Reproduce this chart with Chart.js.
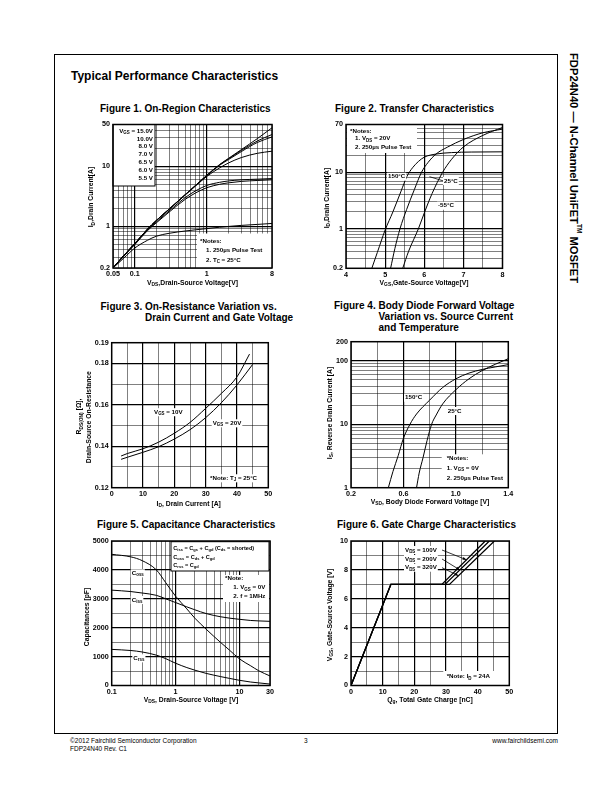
<!DOCTYPE html>
<html>
<head>
<meta charset="utf-8">
<title>FDP24N40 Typical Performance Characteristics</title>
<script src="https://cdn.jsdelivr.net/npm/chart.js@4.4.1/dist/chart.umd.min.js"></script>
<style>
  body { margin: 0; background: #fff; font-family: "Liberation Sans", Arial, sans-serif; color: #000; }
  #page { position: relative; width: 612px; height: 792px; overflow: hidden; }
  .frame { position: absolute; left: 54px; top: 54px; width: 504px; height: 680px; border: 1px solid #000; box-sizing: border-box; }
  .t { position: absolute; white-space: nowrap; font-weight: bold; }
  .fig { font-size: 10px; line-height: 10px; }
  .head { font-size: 12px; line-height: 12px; left: 71px; top: 70px; }
  .foot { position: absolute; white-space: nowrap; font-size: 6.5px; line-height: 8px; }
  .side { position: absolute; writing-mode: vertical-rl; font-weight: bold; font-size: 11.2px; line-height: 13px; left: 567px; top: 53px; white-space: nowrap; }
  .side sup { font-size: 6.5px; }
  canvas { position: absolute; }
</style>
</head>
<body>
<div id="page">
  <div class="frame"></div>
  <div class="t head">Typical Performance Characteristics</div>

  <div class="t fig" style="left:100px;top:104px">Figure 1. On-Region Characteristics</div>
  <div class="t fig" style="left:335px;top:104px">Figure 2. Transfer Characteristics</div>
  <div class="t fig" style="left:100.5px;top:302px">Figure 3. On-Resistance Variation vs.</div>
  <div class="t fig" style="left:145px;top:313px">Drain Current and Gate Voltage</div>
  <div class="t fig" style="left:334px;top:301px">Figure 4. Body Diode Forward Voltage</div>
  <div class="t fig" style="left:378.5px;top:312px">Variation vs. Source Current</div>
  <div class="t fig" style="left:378.5px;top:323px">and Temperature</div>
  <div class="t fig" style="left:97px;top:520px">Figure 5. Capacitance Characteristics</div>
  <div class="t fig" style="left:337px;top:520px">Figure 6. Gate Charge Characteristics</div>

  <div class="side">FDP24N40 — N-Channel UniFET<sup>TM</sup> MOSFET</div>

  <div class="foot" style="left:70px;top:737px">©2012 Fairchild Semiconductor Corporation</div>
  <div class="foot" style="left:70px;top:745px">FDP24N40 Rev. C1</div>
  <div class="foot" style="left:304px;top:737px">3</div>
  <div class="foot" style="right:54px;top:737px">www.fairchildsemi.com</div>
</div>

<script>
// ---- Figure 1: On-Region Characteristics ----
const f1Vds = [0.05, 0.07, 0.1, 0.15, 0.2, 0.3, 0.5, 0.7, 1, 1.5, 2, 3, 5, 8];
const f1Id150 = [0.2, 0.32, 0.51, 0.89, 1.25, 1.93, 3.36, 4.82, 7.1, 10.7, 13.6, 19.0, 29.0, 44];
const f1Id100 = [0.2, 0.32, 0.51, 0.89, 1.25, 1.93, 3.36, 4.82, 7.1, 10.6, 13.4, 18.4, 26.5, 34];
const f1Id80 = [0.2, 0.32, 0.51, 0.89, 1.25, 1.93, 3.35, 4.8, 7.0, 10.4, 13.0, 17.6, 25.0, 31];
const f1Id70 = [0.2, 0.32, 0.51, 0.88, 1.24, 1.9, 3.3, 4.7, 6.8, 9.4, 11.4, 14.0, 16.5, 17.9];
const f1Id65 = [0.2, 0.32, 0.5, 0.86, 1.18, 1.8, 3.0, 3.9, 4.8, 5.4, 5.7, 5.95, 6.1, 6.25];
const f1Id60 = [0.2, 0.31, 0.49, 0.84, 1.14, 1.72, 2.8, 3.6, 4.4, 5.0, 5.3, 5.6, 5.8, 5.95];
const f1Id55 = [0.2, 0.29, 0.43, 0.58, 0.68, 0.76, 0.83, 0.87, 0.91, 0.96, 0.99, 1.03, 1.07, 1.11];
const f1Legend = ['V_{GS} = 15.0V', '10.0V', '8.0 V', '7.0 V', '6.5 V', '6.0 V', '5.5 V'];
const f1XTicks = [0.05, 0.06, 0.07, 0.08, 0.09, 0.1, 0.2, 0.3, 0.4, 0.5, 0.6, 0.7, 0.8, 0.9, 1, 2, 3, 4, 5, 6, 7, 8];
const f1XLabels = ['0.05', '0.1', '1', '8'];
const f1YTicks = [0.2, 0.3, 0.4, 0.5, 0.6, 0.7, 0.8, 0.9, 1, 2, 3, 4, 5, 6, 7, 8, 9, 10, 20, 30, 40, 50];
const f1YLabels = ['0.2', '1', '10', '50'];

// ---- Figure 2: Transfer Characteristics ----
const f2Vgs150 = [4.66, 4.8, 5.0, 5.2, 5.4, 5.56, 5.7, 5.85, 6.0, 6.3, 6.7, 7.2, 8];
const f2Id150 = [0.2, 0.38, 0.95, 2.0, 4.5, 8.5, 12, 15.5, 18.5, 21, 22.3, 22.8, 23];
const f2Vgs25 = [5.14, 5.25, 5.38, 5.55, 5.75, 5.93, 6.1, 6.3, 6.6, 7.0, 7.5, 8];
const f2Id25 = [0.2, 0.45, 1.0, 2.2, 5.0, 10, 15, 21, 28, 38, 50, 58];
const f2VgsM55 = [5.45, 5.6, 5.85, 6.0, 6.2, 6.47, 6.7, 7.0, 7.5, 8];
const f2IdM55 = [0.2, 0.4, 1.0, 1.9, 4.2, 10, 17, 28, 45, 62];
const f2XTicks = [4, 4.5, 5, 5.5, 6, 6.5, 7, 7.5, 8];
const f2XLabels = ['4', '5', '6', '7', '8'];
const f2YTicks = [0.2, 0.3, 0.4, 0.5, 0.6, 0.7, 0.8, 0.9, 1, 2, 3, 4, 5, 6, 7, 8, 9, 10, 20, 30, 40, 50, 60, 70];
const f2YLabels = ['0.2', '1', '10', '70'];

// ---- Figure 3: On-Resistance vs Drain Current ----
const f3Id10 = [3, 5, 10, 15, 20, 25, 30, 35, 40, 44];
const f3R10 = [0.1353, 0.1365, 0.1388, 0.1420, 0.1463, 0.1515, 0.1583, 0.1655, 0.1735, 0.1845];
const f3Id20 = [3, 5, 10, 15, 20, 25, 30, 35, 40, 45];
const f3R20 = [0.1337, 0.1347, 0.1371, 0.1398, 0.1435, 0.148, 0.1538, 0.161, 0.1696, 0.1795];
const f3XTicks = [0, 5, 10, 15, 20, 25, 30, 35, 40, 45, 50];
const f3XLabels = ['0', '10', '20', '30', '40', '50'];
const f3YTicks = [0.12, 0.13, 0.14, 0.15, 0.16, 0.17, 0.18, 0.19];
const f3YLabels = ['0.12', '0.14', '0.16', '0.18', '0.19'];

// ---- Figure 4: Body Diode Forward Voltage ----
const f4Vsd150 = [0.485, 0.52, 0.56, 0.6, 0.65, 0.7, 0.8, 0.9, 1.0, 1.1, 1.2, 1.3, 1.4];
const f4Is150 = [1, 1.8, 3.2, 6, 10, 14.5, 24, 38, 52, 64, 73, 80, 87];
const f4Vsd25 = [0.70, 0.72, 0.75, 0.78, 0.815, 0.85, 0.9, 1.0, 1.1, 1.2, 1.3, 1.4];
const f4Is25 = [1, 1.7, 3.0, 5.5, 10, 14, 21, 35, 52, 70, 88, 108];
const f4XTicks = [0.2, 0.4, 0.6, 0.8, 1.0, 1.2, 1.4];
const f4XLabels = ['0.2', '0.6', '1.0', '1.4'];
const f4YTicks = [1, 2, 3, 4, 5, 6, 7, 8, 9, 10, 20, 30, 40, 50, 60, 70, 80, 90, 100, 200];
const f4YLabels = ['1', '10', '100', '200'];

// ---- Figure 5: Capacitance Characteristics ----
const f5Vds = [0.1, 0.2, 0.3, 0.5, 0.7, 1, 1.5, 2, 3, 5, 7, 10, 15, 20, 30];
const f5Coss = [4540, 4450, 4320, 4000, 3560, 3090, 2650, 2330, 1950, 1500, 1220, 920, 680, 510, 330];
const f5Ciss = [3300, 3250, 3200, 3120, 3000, 2870, 2720, 2620, 2490, 2380, 2330, 2290, 2250, 2235, 2220];
const f5Crss = [1250, 1210, 1160, 1050, 930, 770, 620, 530, 420, 310, 245, 180, 120, 90, 50];
const f5XTicks = [0.1, 0.2, 0.3, 0.4, 0.5, 0.6, 0.7, 0.8, 0.9, 1, 2, 3, 4, 5, 6, 7, 8, 9, 10, 20, 30];
const f5XLabels = ['0.1', '1', '10', '30'];
const f5YTicks = [0, 500, 1000, 1500, 2000, 2500, 3000, 3500, 4000, 4500, 5000];
const f5YLabels = ['0', '1000', '2000', '3000', '4000', '5000'];

// ---- Figure 6: Gate Charge Characteristics ----
const f6Vgs = [0, 7, 7, 10];
const f6Qg100 = [0, 12.6, 28.7, 42.4];
const f6Qg200 = [0, 12.6, 29.7, 43.7];
const f6Qg320 = [0, 12.6, 31.1, 45.3];
const f6XTicks = [0, 5, 10, 15, 20, 25, 30, 35, 40, 45, 50];
const f6XLabels = ['0', '10', '20', '30', '40', '50'];
const f6YTicks = [0, 1, 2, 3, 4, 5, 6, 7, 8, 9, 10];
const f6YLabels = ['0', '2', '4', '6', '8', '10'];

const FONT = '"Liberation Sans", Arial, sans-serif';
const Y_AXIS_W = 26;   // fixed width of the left scale box
const X_AXIS_H = 12;   // fixed height of the bottom scale box

function near(a, b) { return Math.abs(a - b) < 1e-9 * Math.max(1, Math.abs(b)); }

// text with _{sub} and ^{sup} pieces
function rich(ctx, str, x, y, size, align, bg) {
  const parts = str.split(/(_\{[^}]*\}|\^\{[^}]*\})/).filter(Boolean).map(p => {
    if (p.startsWith('_{')) return { t: p.slice(2, -1), k: 'sub' };
    if (p.startsWith('^{')) return { t: p.slice(2, -1), k: 'sup' };
    return { t: p, k: '' };
  });
  const fontFor = k => 'bold ' + (k ? size * 0.72 : size) + 'px ' + FONT;
  let w = 0;
  parts.forEach(p => { ctx.font = fontFor(p.k); p.w = ctx.measureText(p.t).width; w += p.w; });
  let cx = align === 'center' ? x - w / 2 : align === 'right' ? x - w : x;
  if (bg) { ctx.fillStyle = '#fff'; ctx.fillRect(cx - 1, y - size * 0.65, w + 2, size * 1.3); }
  ctx.fillStyle = '#000';
  ctx.textAlign = 'left';
  ctx.textBaseline = 'middle';
  parts.forEach(p => {
    ctx.font = fontFor(p.k);
    const dy = p.k === 'sub' ? size * 0.3 : p.k === 'sup' ? -size * 0.35 : 0;
    ctx.fillText(p.t, cx, y + dy);
    cx += p.w;
  });
  return w;
}

function axis(type, min, max, ticks, labels, horizontal) {
  return {
    type, min, max,
    afterBuildTicks: s => { s.ticks = ticks.map(v => ({ value: v })); },
    afterFit: s => {
      if (horizontal) s.height = X_AXIS_H; else s.width = Y_AXIS_W;
      s.paddingLeft = s.paddingRight = s.paddingTop = s.paddingBottom = 0;
    },
    grid: {
      color: '#000', drawTicks: false,
      // labelled inner ticks get the heavy grid line
      lineWidth: c => (c.tick && labels.some(l => near(parseFloat(l), c.tick.value)) &&
        !near(c.tick.value, min) && !near(c.tick.value, max)) ? 1.2 : 0.5
    },
    border: { display: false },
    ticks: {
      autoSkip: false, maxRotation: 0, minRotation: 0, padding: horizontal ? 2 : 3,
      color: '#000', font: { family: FONT, size: 7.2, weight: 'bold' },
      callback: v => labels.find(l => near(parseFloat(l), v)) ?? ''
    }
  };
}

function series(xs, ys, extra) {
  return Object.assign({
    data: xs.map((x, i) => ({ x, y: ys[i] })),
    borderColor: '#000', borderWidth: 1, pointRadius: 0,
    cubicInterpolationMode: 'monotone', fill: false
  }, extra || {});
}

function scene(sc) {
  return {
    id: 'scene',
    beforeDatasetsDraw(chart) {
      const ctx = chart.ctx, a = chart.chartArea;
      ctx.save();
      (sc.boxes || []).forEach(([x0, y0, x1, y1, stroke]) => {
        ctx.fillStyle = '#fff';
        ctx.fillRect(a.left + x0, a.top + y0, x1 - x0, y1 - y0);
        if (stroke) {
          ctx.strokeStyle = '#000'; ctx.lineWidth = 1;
          ctx.strokeRect(a.left + x0, a.top + y0, x1 - x0, y1 - y0);
        }
      });
      ctx.restore();
    },
    afterDatasetsDraw(chart) {
      const ctx = chart.ctx, a = chart.chartArea;
      ctx.save();
      ctx.strokeStyle = '#000'; ctx.lineWidth = 1.5;
      ctx.strokeRect(a.left, a.top, a.right - a.left, a.bottom - a.top);
      if (sc.extra) sc.extra(chart, ctx);
      (sc.texts || []).forEach(([s, x, y, size, align, bg]) =>
        rich(ctx, s, a.left + x, a.top + y, size, align, bg));
      if (sc.xTitle) rich(ctx, sc.xTitle[0], a.left + sc.xTitle[1], a.top + sc.xTitle[2], 6.8, 'center');
      (sc.yTitles || []).forEach(([s, x, y]) => {
        ctx.save();
        ctx.translate(a.left + x, a.top + y);
        ctx.rotate(-Math.PI / 2);
        rich(ctx, s, 0, 0, 6.8, 'center');
        ctx.restore();
      });
      ctx.restore();
    }
  };
}

function plot(box, area, xAxis, yAxis, datasets, sc) {
  const [bx, by, bw, bh] = box;
  const [l, t, r, b] = area;
  const cv = document.createElement('canvas');
  cv.width = bw; cv.height = bh;
  cv.style.left = bx + 'px'; cv.style.top = by + 'px';
  cv.style.width = bw + 'px'; cv.style.height = bh + 'px';
  document.getElementById('page').appendChild(cv);
  return new Chart(cv, {
    type: 'line',
    data: { datasets },
    options: {
      responsive: false, animation: false, events: [],
      layout: { padding: { left: l - bx - Y_AXIS_W, top: t - by, right: bx + bw - r, bottom: by + bh - b - X_AXIS_H } },
      plugins: { legend: { display: false }, tooltip: { enabled: false } },
      scales: { x: xAxis, y: yAxis }
    },
    plugins: [scene(sc)]
  });
}

// Figure 1
plot([60, 115, 230, 200], [113, 124.5, 272, 268],
  axis('logarithmic', 0.05, 8, f1XTicks, f1XLabels, true),
  axis('logarithmic', 0.2, 50, f1YTicks, f1YLabels, false),
  [f1Id150, f1Id100, f1Id80, f1Id70, f1Id65, f1Id60, f1Id55].map(ys => series(f1Vds, ys)),
  {
    boxes: [[0, 0, 42, 61.5, true], [84, 109, 159, 143.5, false]],
    texts: f1Legend.map((s, i) => [s, 40, 6.5 + i * 7.8, 6.2, 'right', false]).concat([
      ['*Notes:', 87, 116.5, 6.2, 'left', false],
      ['1. 250\u00b5s Pulse Test', 93, 126, 6.2, 'left', false],
      ['2. T_{C} = 25\u00b0C', 93, 135.6, 6.2, 'left', false]
    ]),
    xTitle: ['V_{DS},Drain-Source Voltage[V]', 79.5, 158.5],
    yTitles: [['I_{D},Drain Current[A]', -21.5, 72.5]]
  });

// Figure 2
plot([318, 115, 210, 195], [346, 124.5, 502.5, 268.3],
  axis('linear', 4, 8, f2XTicks, f2XLabels, true),
  axis('logarithmic', 0.2, 70, f2YTicks, f2YLabels, false),
  [series(f2Vgs150, f2Id150), series(f2Vgs25, f2Id25), series(f2VgsM55, f2IdM55)],
  {
    boxes: [[1, 0.5, 71, 28.5, false]],
    texts: [
      ['*Notes:', 4, 6.5, 6.2, 'left', false],
      ['1. V_{DS} = 20V', 9, 14.2, 6.2, 'left', false],
      ['2. 250\u00b5s Pulse Test', 9, 23.2, 6.2, 'left', false],
      ['150\u00b0C', 42, 52.2, 6.2, 'left', true],
      ['25\u00b0C', 98, 56.5, 6.2, 'left', true],
      ['-55\u00b0C', 92, 81.2, 6.2, 'left', true]
    ],
    extra: (chart, ctx) => {
      const a = chart.chartArea;
      ctx.strokeStyle = '#000'; ctx.lineWidth = 0.8;
      ctx.beginPath();
      ctx.moveTo(a.left + 83.5, a.top + 52.2);
      ctx.lineTo(a.left + 97, a.top + 56.3);
      ctx.stroke();
    },
    xTitle: ['V_{GS},Gate-Source Voltage[V]', 78, 158.5],
    yTitles: [['I_{D},Drain Current[A]', -19, 73.5]]
  });

// Figure 3
plot([60, 335, 230, 175], [111.7, 342.7, 268.3, 487.7],
  axis('linear', 0, 50, f3XTicks, f3XLabels, true),
  axis('linear', 0.12, 0.19, f3YTicks, f3YLabels, false),
  [series(f3Id10, f3R10), series(f3Id20, f3R20)],
  {
    texts: [
      ['V_{GS} = 10V', 42.3, 69.5, 6.2, 'left', true],
      ['V_{GS} = 20V', 101, 80.6, 6.2, 'left', true],
      ['*Note: T_{J} = 25\u00b0C', 98.3, 135.6, 6.2, 'left', true]
    ],
    xTitle: ['I_{D}, Drain Current [A]', 77, 161],
    yTitles: [['R_{DS(ON)} [\u03a9],', -32.4, 73.8], ['Drain-Source On-Resistance', -22.4, 74.5]]
  });

// Figure 4
plot([318, 335, 210, 175], [351, 341.7, 508.3, 487.7],
  axis('linear', 0.2, 1.4, f4XTicks, f4XLabels, true),
  axis('logarithmic', 1, 200, f4YTicks, f4YLabels, false),
  [series(f4Vsd150, f4Is150), series(f4Vsd25, f4Is25)],
  {
    boxes: [[90.7, 112.6, 157.3, 146, false]],
    texts: [
      ['150\u00b0C', 54, 56, 6.2, 'left', true],
      ['25\u00b0C', 96.7, 69.3, 6.2, 'left', true],
      ['*Notes:', 95.7, 116.6, 6.2, 'left', false],
      ['1. V_{GS} = 0V', 95.7, 126.6, 6.2, 'left', false],
      ['2. 250\u00b5s Pulse Test', 95.7, 136.3, 6.2, 'left', false]
    ],
    xTitle: ['V_{SD}, Body Diode Forward Voltage [V]', 79, 160.3],
    yTitles: [['I_{S}, Reverse Drain Current [A]', -21, 71.3]]
  });

// Figure 5
plot([60, 534, 230, 175], [111.7, 541, 270, 685.5],
  axis('logarithmic', 0.1, 30, f5XTicks, f5XLabels, true),
  axis('linear', 0, 5000, f5YTicks, f5YLabels, false),
  [series(f5Vds, f5Coss), series(f5Vds, f5Ciss), series(f5Vds, f5Crss)],
  {
    boxes: [[59.3, 0.7, 157.3, 30, true], [111.3, 34, 157.3, 61, false]],
    texts: [
      ['C_{iss} = C_{gs} + C_{gd} (C_{ds} = shorted)', 61.6, 7.3, 5.6, 'left', false],
      ['C_{oss} = C_{ds} + C_{gd}', 61.6, 16.3, 5.6, 'left', false],
      ['C_{rss} = C_{gd}', 61.6, 24.7, 5.6, 'left', false],
      ['*Note:', 113.3, 37.3, 6.2, 'left', false],
      ['1. V_{GS} = 0V', 121.6, 46.7, 6.2, 'left', false],
      ['2. f = 1MHz', 121.6, 55.7, 6.2, 'left', false],
      ['C_{oss}', 20, 32.3, 6.2, 'left', true],
      ['C_{iss}', 20, 59, 6.2, 'left', true],
      ['C_{rss}', 21.6, 117.3, 6.2, 'left', true]
    ],
    xTitle: ['V_{DS}, Drain-Source Voltage [V]', 79.3, 159],
    yTitles: [['Capacitances [pF]', -25, 76]]
  });

// Figure 6
plot([318, 534, 210, 175], [351, 541, 509.3, 685.5],
  axis('linear', 0, 50, f6XTicks, f6XLabels, true),
  axis('linear', 0, 10, f6YTicks, f6YLabels, false),
  [f6Qg100, f6Qg200, f6Qg320].map(qs => series(qs, f6Vgs, { cubicInterpolationMode: 'default', tension: 0, borderWidth: 1.3 })),
  {
    boxes: [[92.3, 130, 158, 144.5, false]],
    texts: [
      ['V_{DS} = 100V', 54, 9, 6.2, 'left', true],
      ['V_{DS} = 200V', 54, 18, 6.2, 'left', true],
      ['V_{DS} = 320V', 54, 26.7, 6.2, 'left', true],
      ['*Note: I_{D} = 24A', 95.7, 135.7, 6.2, 'left', false]
    ],
    extra: (chart, ctx) => {
      // leader arrows from the labels to the three V_DS lines
      const a = chart.chartArea, sx = chart.scales.x, sy = chart.scales.y;
      [[f6Qg100, 8.7, 9], [f6Qg200, 8.0, 18], [f6Qg320, 7.6, 26.7]].forEach(([qs, v, ly]) => {
        const q = qs[2] + (v - 7) / 3 * (qs[3] - qs[2]);
        const tx = sx.getPixelForValue(q), ty = sy.getPixelForValue(v);
        const fx = a.left + 91, fy = a.top + ly;
        const ang = Math.atan2(ty - fy, tx - fx);
        ctx.strokeStyle = '#000'; ctx.fillStyle = '#000'; ctx.lineWidth = 0.8;
        ctx.beginPath(); ctx.moveTo(fx, fy); ctx.lineTo(tx, ty); ctx.stroke();
        ctx.beginPath();
        ctx.moveTo(tx, ty);
        ctx.lineTo(tx - 4 * Math.cos(ang - 0.35), ty - 4 * Math.sin(ang - 0.35));
        ctx.lineTo(tx - 4 * Math.cos(ang + 0.35), ty - 4 * Math.sin(ang + 0.35));
        ctx.closePath(); ctx.fill();
      });
    },
    xTitle: ['Q_{g}, Total Gate Charge [nC]', 79, 159],
    yTitles: [['V_{GS}, Gate-Source Voltage [V]', -21, 74]]
  });
</script>
</body>
</html>
